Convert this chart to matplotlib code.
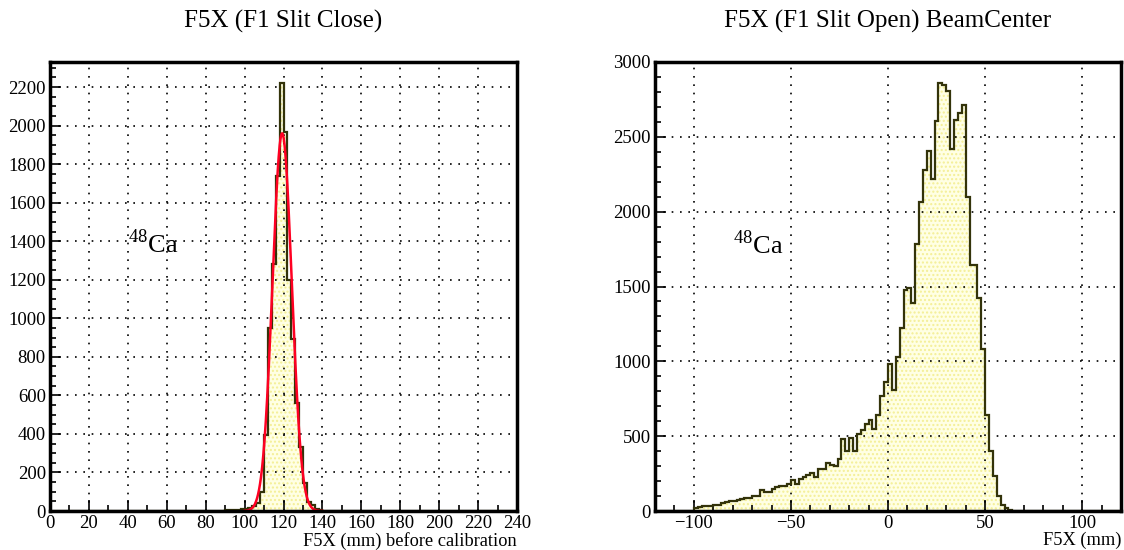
import numpy as np
import matplotlib
matplotlib.use("Agg")
import matplotlib.pyplot as plt
from matplotlib.ticker import MultipleLocator

plt.rcParams['font.family'] = ['Liberation Serif', 'DejaVu Serif']
plt.rcParams['mathtext.fontset'] = 'custom'
plt.rcParams['mathtext.rm'] = 'Liberation Serif'
plt.rcParams['hatch.linewidth'] = 1.0

# left: F1 slit closed, 2 mm bins starting at 88 mm
left_first_edge = 88
left_counts = [2, 3, 4, 5, 6, 8, 10, 15, 25, 40, 100, 394, 950, 1282, 1740,
               2220, 1968, 1199, 893, 562, 334, 145, 48, 31, 8, 3]
# gaussian fit on the left histogram
fit_amp, fit_mean, fit_sigma = 1960, 119.3, 4.95
fit_range = (100, 140)

# right: F1 slit open, 2 mm bins starting at -100 mm
right_first_edge = -100
right_counts = [21, 30, 33, 33, 35, 41, 41, 55, 57, 66,
                68, 75, 77, 88, 90, 100, 101, 139, 125, 128,
                146, 160, 166, 170, 179, 208, 179, 213, 224, 242,
                257, 224, 279, 283, 320, 306, 299, 346, 480, 400,
                490, 400, 515, 540, 580, 605, 545, 642, 770, 860,
                985, 807, 1029, 1225, 1475, 1488, 1392, 1786, 2062, 2278,
                2404, 2216, 2605, 2861, 2845, 2805, 2420, 2614, 2660, 2716,
                2097, 1643, 1643, 1425, 1081, 640, 402, 235, 101, 41,
                20, 7, 3, 2, 1]

BIN = 2
LINE = '#33330a'


def full_hist(lo, hi, first_edge, counts):
    edges = np.arange(lo, hi + BIN, BIN)
    vals = np.zeros(len(edges) - 1)
    i0 = int((first_edge - lo) / BIN)
    vals[i0:i0 + len(counts)] = counts
    return edges, vals


def style_axes(ax, xmajor, xminor, ymajor, yminor):
    ax.xaxis.set_major_locator(MultipleLocator(xmajor))
    ax.xaxis.set_minor_locator(MultipleLocator(xminor))
    ax.yaxis.set_major_locator(MultipleLocator(ymajor))
    ax.yaxis.set_minor_locator(MultipleLocator(yminor))
    ax.tick_params(which='both', direction='in', top=False, right=False,
                   labelsize=13.5, width=1.2)
    ax.tick_params(which='major', length=8, pad=3)
    ax.tick_params(which='minor', length=4.5)
    ax.grid(True, which='major', color='black', linestyle=(0, (1, 4)), linewidth=1.2)
    ax.set_axisbelow(False)
    for s in ax.spines.values():
        s.set_linewidth(2.5)
        s.set_zorder(5)


def draw_hist(ax, edges, vals):
    ax.stairs(vals, edges, fill=True, facecolor='#ffffe4', edgecolor='#f4ef96',
              hatch='....', linewidth=0, zorder=1)
    ax.stairs(vals, edges, color=LINE, linewidth=1.6, zorder=3)


fig = plt.figure(figsize=(11.24, 5.5), dpi=100)

# left pad
ax1 = fig.add_axes([50 / 1124, 39 / 550, 467 / 1124, 449 / 550])
e1, v1 = full_hist(0, 240, left_first_edge, left_counts)
draw_hist(ax1, e1, v1)
xf = np.linspace(fit_range[0], fit_range[1], 400)
ax1.plot(xf, fit_amp * np.exp(-0.5 * ((xf - fit_mean) / fit_sigma) ** 2),
         color='#ff0022', linewidth=1.8, zorder=4)
ax1.set_xlim(0, 240)
ax1.set_ylim(0, 2330)
style_axes(ax1, 20, 10, 200, 50)
ax1.set_title('F5X (F1 Slit Close)', fontsize=18, pad=25)
ax1.set_xlabel('F5X (mm) before calibration', fontsize=13.2, loc='right', labelpad=0)
ax1.text(40, 1340, r'$^{48}$Ca', fontsize=19, va='baseline')

# right pad
ax2 = fig.add_axes([655 / 1124, 39 / 550, 466 / 1124, 449 / 550])
e2, v2 = full_hist(-120, 120, right_first_edge, right_counts)
draw_hist(ax2, e2, v2)
ax2.set_xlim(-120, 120)
ax2.set_ylim(0, 3000)
style_axes(ax2, 50, 10, 500, 100)
ax2.set_title('F5X (F1 Slit Open) BeamCenter', fontsize=18, pad=25)
ax2.set_xlabel('F5X (mm)', fontsize=13.2, loc='right', labelpad=0)
ax2.text(-80, 1717, r'$^{48}$Ca', fontsize=19, va='baseline')

fig.savefig('out.png', dpi=100)
